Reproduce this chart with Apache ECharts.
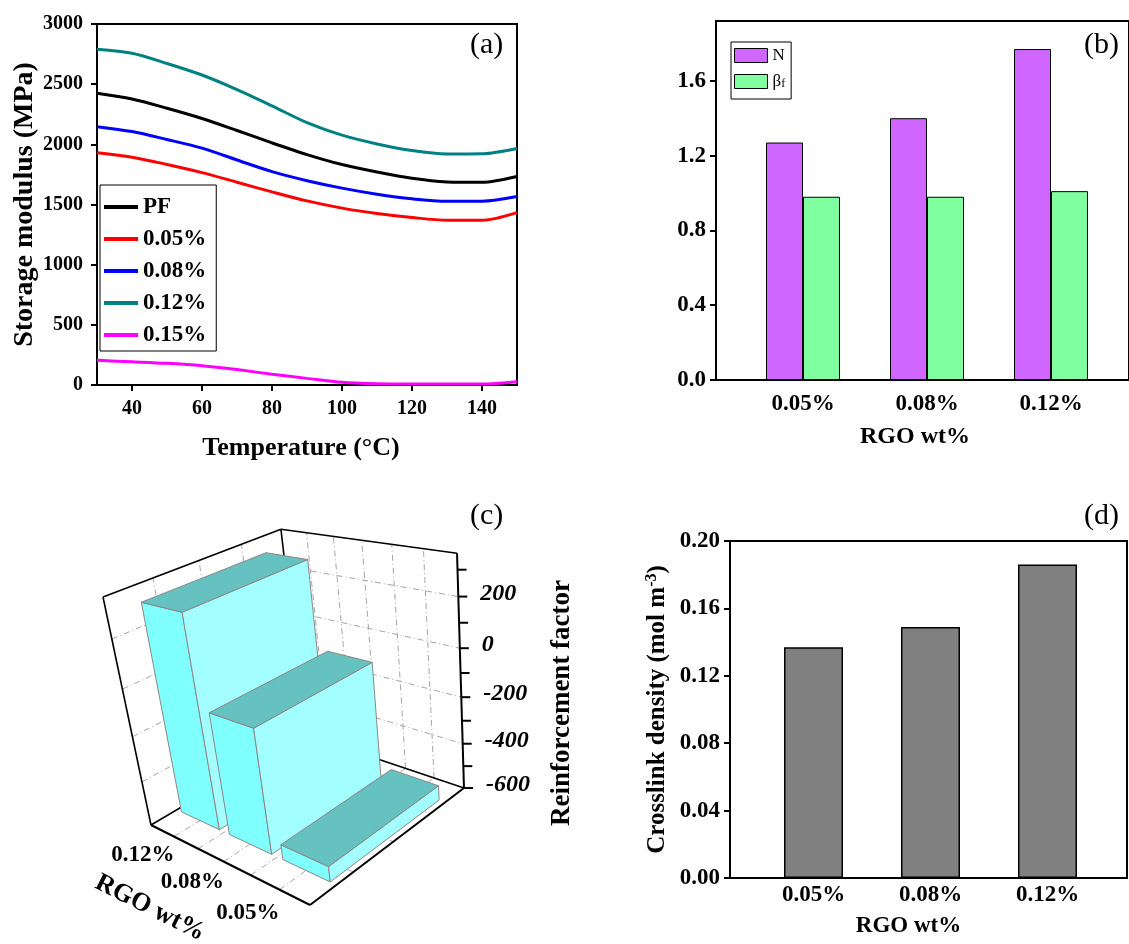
<!DOCTYPE html>
<html>
<head>
<meta charset="utf-8">
<title>RGO / PF composite properties</title>
<script src="https://cdn.jsdelivr.net/npm/echarts@6.0.0/dist/echarts.min.js"></script>
<style>
  html, body { margin: 0; padding: 0; background: #fff; }
  #chart { width: 1129px; height: 944px; }
</style>
</head>
<body>
<div id="chart"></div>
<script>
// ---------- (a) storage modulus vs temperature ----------
const temperatures = [30, 40, 50, 60, 70, 80, 90, 100, 110, 120, 130, 140, 150];
const modulusPF  = [2425, 2377, 2300, 2215, 2115, 2012, 1915, 1832, 1770, 1718, 1688, 1684, 1732];
const modulus005 = [1930, 1893, 1833, 1765, 1685, 1605, 1530, 1470, 1425, 1392, 1370, 1370, 1433];
const modulus008 = [2147, 2106, 2040, 1968, 1870, 1773, 1698, 1636, 1585, 1547, 1526, 1527, 1566];
const modulus012 = [2790, 2757, 2672, 2576, 2455, 2320, 2180, 2076, 2003, 1948, 1920, 1922, 1966];
const modulus015 = [205, 193, 180, 160, 128, 90, 55, 22, 10, 8, 8, 8, 27];
const temperatureTicks = [40, 60, 80, 100, 120, 140];

// ---------- (b) N and beta_f ----------
const rgoCategories = ['0.05%', '0.08%', '0.12%'];
const nValues = [1.27, 1.40, 1.77];
const betaValues = [0.98, 0.98, 1.01];
const nBetaTicks = [0, 0.4, 0.8, 1.2, 1.6];

// ---------- (c) reinforcement factor (3D bars) ----------
const rfCategories = ['0.12%', '0.08%', '0.05%'];
const reinforcement = [300, -75, -535];
const rfMin = -600;
const rfMax = 360;
const rfTicks = [-600, -500, -400, -300, -200, -100, 0, 100, 200, 300];
const rfTickLabels = [-600, -400, -200, 0, 200];
const rfGridValues = [-400, -200, 0, 200];

// ---------- (d) crosslink density ----------
const crosslink = [0.137, 0.149, 0.186];

const SERIF = 'Liberation Serif';
const bold = size => ({ fontFamily: SERIF, fontWeight: 'bold', fontSize: size, color: '#000' });
const AXIS_LINE = { lineStyle: { color: '#000', width: 2 } };
const TICK_OUT = { length: 6, lineStyle: { color: '#000', width: 2 } };

// perspective camera used for panel (c): screen centre, focal length,
// floor corner position and the three box edge vectors in camera space
const CAM = {
  cx: 276.7, cy: 723, f: 915.2,
  origin: [-125.7, 102, 915.2],
  eu: [153.76, 51.43, -143.64],
  ev: [157.91, -88.89, 137.21],
  ew: [-27.84, -213.41, -106.22]
};
function project(u, v, w) {
  const p = [0, 1, 2].map(k => CAM.origin[k] + u * CAM.eu[k] + v * CAM.ev[k] + w * CAM.ew[k]);
  return [CAM.cx + CAM.f * p[0] / p[2], CAM.cy + CAM.f * p[1] / p[2]];
}
const BAR_DEPTH = [0.15, 0.86];
const BAR_FILL = 0.4; // half width of a bar, as a share of its category band

function seg(kids, a, b, style) {
  kids.push({ type: 'line', shape: { x1: a[0], y1: a[1], x2: b[0], y2: b[1] }, style });
}

// walls, grid and value axis of the 3D box (drawn behind the bars)
function renderBox(params, api) {
  const cs = params.coordSys;
  const wOf = val => (cs.y + cs.height - api.coord([0, val])[1]) / cs.height;
  const uOf = i => (api.coord([i, rfMin])[0] - cs.x) / cs.width;
  const band = api.size([1, 0])[0] / cs.width;
  const kids = [];
  const grid = { stroke: '#a6a6a6', lineWidth: 1, lineDash: [6, 3, 1, 3] };
  const edge = { stroke: '#000', lineWidth: 1.6 };
  rfGridValues.forEach(val => {
    const w = wOf(val);
    seg(kids, project(0, 0, w), project(0, 1, w), grid);
    seg(kids, project(0, 1, w), project(1, 1, w), grid);
  });
  const uLines = [];
  rfCategories.forEach((c, i) => { uLines.push(uOf(i)); if (i) uLines.push(uOf(i) - band / 2); });
  uLines.forEach(u => {
    seg(kids, project(u, 1, 0), project(u, 1, 1), grid);
    seg(kids, project(u, 0, 0), project(u, 1, 0), grid);
  });
  [0.25, 0.5, 0.75].forEach(v => {
    seg(kids, project(0, v, 0), project(0, v, 1), grid);
    seg(kids, project(0, v, 0), project(1, v, 0), grid);
  });
  seg(kids, project(0, 0, 1), project(0, 1, 1), edge);
  seg(kids, project(0, 1, 1), project(1, 1, 1), edge);
  seg(kids, project(0, 0, 1), project(0, 0, 0), edge);
  seg(kids, project(0, 1, 1), project(0, 1, 0), edge);
  seg(kids, project(0, 0, 0), project(0, 1, 0), edge);
  seg(kids, project(0, 1, 0), project(1, 1, 0), edge);
  seg(kids, project(1, 1, 0), project(1, 1, 1), { stroke: '#000', lineWidth: 2 });
  rfTicks.forEach(val => {
    const p = project(1, 1, wOf(val));
    seg(kids, p, [p[0] + 9, p[1]], { stroke: '#000', lineWidth: 2 });
  });
  rfTickLabels.forEach(val => {
    const p = project(1, 1, wOf(val));
    kids.push({ type: 'text', x: p[0] + 22, y: p[1] - 3,
      style: { text: String(val), font: 'italic bold 24px "Liberation Serif"', fill: '#000', align: 'left', verticalAlign: 'middle' } });
  });
  return { type: 'group', children: kids };
}

// one slab per RGO loading: front, right side and top faces
function renderBars(params, api) {
  const cs = params.coordSys;
  const i = api.value(0);
  const base = api.coord([i, rfMin]);
  const top = api.coord([i, api.value(1)]);
  const uc = (base[0] - cs.x) / cs.width;
  const hw = BAR_FILL * api.size([1, 0])[0] / cs.width;
  const wt = (base[1] - top[1]) / cs.height;
  const u0 = uc - hw, u1 = uc + hw;
  const [v0, v1] = BAR_DEPTH;
  const face = (pts, fill) => ({ type: 'polygon', shape: { points: pts.map(p => project(p[0], p[1], p[2])) },
    style: { fill, stroke: '#8e8585', lineWidth: 1 } });
  return { type: 'group', children: [
    face([[u0, v0, 0], [u1, v0, 0], [u1, v0, wt], [u0, v0, wt]], '#80FFFF'),
    face([[u1, v0, 0], [u1, v1, 0], [u1, v1, wt], [u1, v0, wt]], '#A3FFFF'),
    face([[u0, v0, wt], [u1, v0, wt], [u1, v1, wt], [u0, v1, wt]], '#66C1C1')
  ] };
}

// front floor edges and category labels (drawn over the bars)
function renderFront(params, api) {
  const cs = params.coordSys;
  const kids = [];
  const edge = { stroke: '#000', lineWidth: 2 };
  seg(kids, project(0, 0, 0), project(1, 0, 0), edge);
  seg(kids, project(1, 0, 0), project(1, 1, 0), edge);
  rfCategories.forEach((c, i) => {
    const u = (api.coord([i, rfMin])[0] - cs.x) / cs.width;
    const p = project(u, -0.17, 0);
    kids.push({ type: 'text', x: p[0], y: p[1],
      style: { text: c, font: 'bold 23px "Liberation Serif"', fill: '#000', align: 'center', verticalAlign: 'middle' } });
  });
  return { type: 'group', children: kids };
}

const lineSeries = (name, values, color) => ({
  name, type: 'line', xAxisIndex: 0, yAxisIndex: 0,
  data: temperatures.map((t, k) => [t, values[k]]),
  smooth: 0.3, showSymbol: false, symbol: 'none',
  lineStyle: { color, width: 3 }, itemStyle: { color }
});

const option = {
  animation: false,
  backgroundColor: '#fff',
  textStyle: { fontFamily: SERIF },
  grid: [
    { left: 97, top: 24, width: 420, height: 361, show: true, borderColor: '#000', borderWidth: 2 },
    { left: 716, top: 21, width: 416, height: 359, show: true, borderColor: '#000', borderWidth: 2 },
    { left: 741, top: 21, width: 372, height: 359 },
    { left: 730, top: 541, width: 397, height: 337, show: true, borderColor: '#000', borderWidth: 2 },
    { left: 755, top: 541, width: 351, height: 337 },
    { left: 0, top: 0, width: 300, height: 300 }
  ],
  xAxis: [
    { gridIndex: 0, type: 'value', min: 30, max: 150,
      name: 'Temperature (°C)', nameLocation: 'middle', nameGap: 50,
      nameTextStyle: Object.assign({ padding: [0, 12, 0, 0] }, bold(26)),
      axisLine: AXIS_LINE, axisTick: Object.assign({ customValues: temperatureTicks }, TICK_OUT),
      axisLabel: Object.assign({ customValues: temperatureTicks, margin: 14 }, bold(20)),
      splitLine: { show: false } },
    { gridIndex: 1, type: 'value', min: 0, max: 1,
      name: 'RGO wt%', nameLocation: 'middle', nameGap: 45,
      nameTextStyle: Object.assign({ padding: [0, 15, 0, 0] }, bold(24)),
      axisLine: AXIS_LINE, axisTick: { show: false }, axisLabel: { show: false }, splitLine: { show: false } },
    { gridIndex: 2, type: 'category', data: rgoCategories,
      axisLine: { show: false }, axisTick: { show: false },
      axisLabel: Object.assign({ margin: 13, interval: 0 }, bold(23)) },
    { gridIndex: 3, type: 'value', min: 0, max: 1,
      name: 'RGO wt%', nameLocation: 'middle', nameGap: 37,
      nameTextStyle: Object.assign({ padding: [0, 40, 0, 0] }, bold(23)),
      axisLine: AXIS_LINE, axisTick: { show: false }, axisLabel: { show: false }, splitLine: { show: false } },
    { gridIndex: 4, type: 'category', data: rgoCategories,
      axisLine: { show: false }, axisTick: { show: false },
      axisLabel: Object.assign({ margin: 6, interval: 0 }, bold(23)) },
    { gridIndex: 5, type: 'category', data: rfCategories, show: false }
  ],
  yAxis: [
    { gridIndex: 0, type: 'value', min: 0, max: 3000, interval: 500,
      name: 'Storage modulus (MPa)', nameLocation: 'middle', nameGap: 55, nameTextStyle: bold(28),
      axisLine: AXIS_LINE, axisTick: TICK_OUT,
      axisLabel: Object.assign({ margin: 14, formatter: v => String(v) }, bold(20)), splitLine: { show: false } },
    { gridIndex: 1, type: 'value', min: 0, max: 1.92,
      axisLine: AXIS_LINE, axisTick: Object.assign({ customValues: nBetaTicks }, TICK_OUT),
      axisLabel: Object.assign({ customValues: nBetaTicks, margin: 10, formatter: v => v.toFixed(1) }, bold(23)),
      splitLine: { show: false } },
    { gridIndex: 2, type: 'value', min: 0, max: 1.92, show: false },
    { gridIndex: 3, type: 'value', min: 0, max: 0.2, interval: 0.04,
      name: '{t|Crosslink density (mol m}{s|-3}{t|)}', nameLocation: 'middle', nameGap: 58,
      nameTextStyle: { rich: {
        t: { fontFamily: SERIF, fontWeight: 'bold', fontSize: 25, lineHeight: 28, color: '#000' },
        s: { fontFamily: SERIF, fontWeight: 'bold', fontSize: 16, lineHeight: 16, verticalAlign: 'top', color: '#000' }
      } },
      axisLine: AXIS_LINE, axisTick: TICK_OUT,
      axisLabel: Object.assign({ margin: 10, formatter: v => v.toFixed(2) }, bold(23)),
      splitLine: { show: false } },
    { gridIndex: 4, type: 'value', min: 0, max: 0.2, show: false },
    { gridIndex: 5, type: 'value', min: rfMin, max: rfMax, show: false }
  ],
  legend: [
    { data: ['PF', '0.05%', '0.08%', '0.12%', '0.15%'], orient: 'vertical', left: 100, top: 185,
      padding: [10, 10, 4, 4], itemWidth: 34, itemHeight: 4, itemGap: 8, icon: 'rect',
      selectedMode: false, borderColor: '#000', borderWidth: 1, borderRadius: 0,
      itemStyle: { borderWidth: 0 },
      textStyle: Object.assign({ lineHeight: 24 }, bold(23)) },
    { data: ['N', 'βf'], orient: 'vertical', left: 731, top: 42,
      padding: [5, 6, 9, 3], itemWidth: 33, itemHeight: 14, itemGap: 9, icon: 'rect',
      selectedMode: false, borderColor: '#000', borderWidth: 1, borderRadius: 0,
      itemStyle: { borderColor: '#000', borderWidth: 1 },
      formatter: name => name === 'βf' ? '{g|β}{f|f}' : '{g|' + name + '}',
      textStyle: { rich: {
        g: { fontFamily: SERIF, fontSize: 17, lineHeight: 17, color: '#000' },
        f: { fontFamily: SERIF, fontSize: 12, lineHeight: 10, verticalAlign: 'bottom', color: '#000' }
      } } }
  ],
  series: [
    lineSeries('PF', modulusPF, '#000000'),
    lineSeries('0.05%', modulus005, '#FF0000'),
    lineSeries('0.08%', modulus008, '#0000FF'),
    lineSeries('0.12%', modulus012, '#008080'),
    lineSeries('0.15%', modulus015, '#FF00FF'),
    { name: 'N', type: 'bar', xAxisIndex: 2, yAxisIndex: 2, data: nValues, barWidth: 37, barGap: '0%',
      itemStyle: { color: '#CF66FF', borderColor: '#000', borderWidth: 1 } },
    { name: 'βf', type: 'bar', xAxisIndex: 2, yAxisIndex: 2, data: betaValues, barWidth: 37, barGap: '0%',
      itemStyle: { color: '#80FFA0', borderColor: '#000', borderWidth: 1 } },
    { name: 'Crosslink density', type: 'bar', xAxisIndex: 4, yAxisIndex: 4, data: crosslink, barWidth: 59,
      itemStyle: { color: '#808080', borderColor: '#000', borderWidth: 1.5 } },
    { name: 'box', type: 'custom', xAxisIndex: 5, yAxisIndex: 5, z: 1, silent: true, clip: false,
      data: [[0, rfMin]], renderItem: renderBox },
    { name: 'Reinforcement factor', type: 'custom', xAxisIndex: 5, yAxisIndex: 5, z: 2, silent: true, clip: false,
      data: reinforcement.map((v, i) => [i, v]), renderItem: renderBars },
    { name: 'front', type: 'custom', xAxisIndex: 5, yAxisIndex: 5, z: 3, silent: true, clip: false,
      data: [[0, rfMin]], renderItem: renderFront }
  ],
  graphic: [
    { type: 'text', left: 470, top: 30, style: { text: '(a)', font: '30px "Liberation Serif"', fill: '#000' } },
    { type: 'text', left: 1084, top: 30, style: { text: '(b)', font: '30px "Liberation Serif"', fill: '#000' } },
    { type: 'text', left: 470, top: 501, style: { text: '(c)', font: '30px "Liberation Serif"', fill: '#000' } },
    { type: 'text', left: 1084, top: 501, style: { text: '(d)', font: '30px "Liberation Serif"', fill: '#000' } },
    { type: 'text', x: 150, y: 908, rotation: -0.466,
      style: { text: 'RGO wt%', font: 'bold 26px "Liberation Serif"', fill: '#000', align: 'center', verticalAlign: 'middle' } },
    { type: 'text', x: 562, y: 703, rotation: Math.PI / 2,
      style: { text: 'Reinforcement factor', font: 'bold 27px "Liberation Serif"', fill: '#000', align: 'center', verticalAlign: 'middle' } }
  ]
};

const chart = echarts.init(document.getElementById('chart'), null, { renderer: 'canvas' });
chart.setOption(option);
</script>
</body>
</html>
